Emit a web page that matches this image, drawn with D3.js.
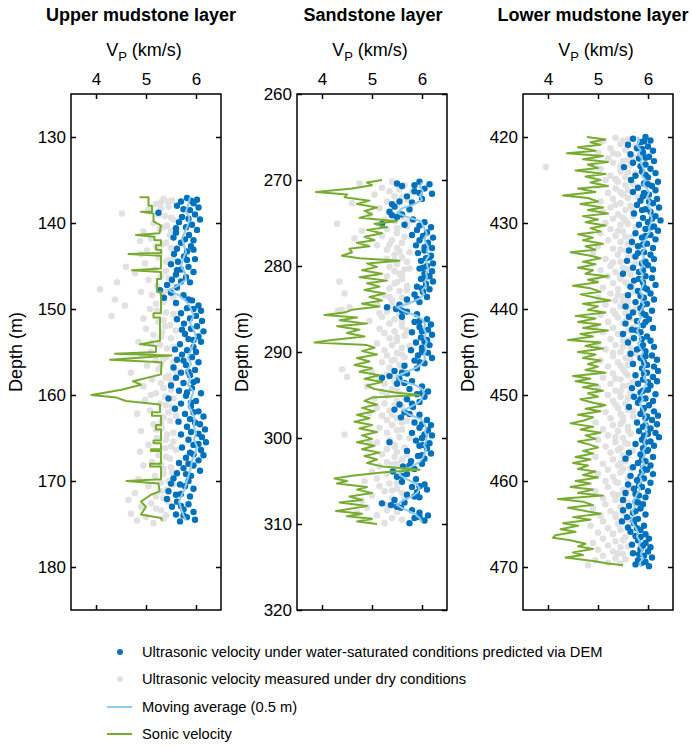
<!DOCTYPE html>
<html>
<head>
<meta charset="utf-8">
<script src="https://cdn.jsdelivr.net/npm/d3@7"></script>
<style>
body { margin: 0; background: #fff; font-family: "Liberation Sans", Arial, Helvetica, sans-serif; }
</style>
</head>
<body>
<div id="chart"></div>
<script>
// ---- data: [depth (m), Vp (km/s)] ----
const vpTicks = [4, 5, 6]
const layerTitles = ["Upper mudstone layer", "Sandstone layer", "Lower mudstone layer"]
const depthRanges = [[125, 185], [260, 320], [415, 475]]
const depthTicks = [
  [130, 140, 150, 160, 170, 180],
  [260, 270, 280, 290, 300, 310, 320],
  [420, 430, 440, 450, 460, 470]
]

// upper mudstone
const upperSonic = [[137.0,4.87],[137.0,5.05],[138.0,5.05],[138.0,5.12],[138.7,5.12],[138.7,4.9],[138.9,5.15],[139.8,5.15],[140.3,5.3],[141.2,5.27],[141.4,4.8],[141.6,5.17],[142.0,5.17],[142.0,5.3],[142.6,5.3],[142.6,5.2],[143.1,5.2],[143.1,5.3],[143.5,5.3],[143.6,4.65],[143.8,5.3],[145.3,5.3],[145.5,4.72],[145.7,5.3],[146.5,5.3],[146.5,5.22],[148.0,5.22],[148.0,5.3],[150.5,5.3],[150.5,5.15],[151.0,5.15],[151.0,5.28],[153.7,5.28],[154.1,4.88],[154.3,5.2],[155.0,5.2],[155.2,4.38],[155.4,5.51],[155.9,4.28],[156.2,5.31],[157.6,5.3],[158.4,4.74],[158.8,4.9],[159.4,4.51],[160.0,3.91],[160.3,4.41],[160.7,4.6],[161.1,5.28],[162.0,5.28],[162.0,5.12],[162.4,5.12],[162.4,5.3],[163.5,5.3],[163.5,5.2],[164.0,5.2],[164.0,5.3],[165.3,5.3],[165.3,5.15],[165.6,5.15],[165.6,5.3],[166.3,5.3],[166.3,5.1],[166.5,5.1],[166.5,5.3],[168.0,5.3],[168.0,5.08],[168.3,5.08],[168.3,5.3],[169.8,5.3],[170.0,4.61],[170.3,5.25],[171.2,5.27],[171.6,5.1],[172.4,4.9],[173.0,5.0],[173.9,4.9],[174.3,5.3],[174.6,5.32]]
const upperAvg = [[137.0,5.88],[137.8,5.85],[138.6,5.8],[139.4,5.87],[140.2,5.84],[141.0,5.78],[141.8,5.72],[142.6,5.76],[143.4,5.8],[144.2,5.74],[145.0,5.7],[145.8,5.78],[146.6,5.8],[147.4,5.6],[147.8,5.45],[148.4,5.66],[149.2,5.82],[150.0,5.9],[150.8,5.95],[151.6,5.88],[152.4,5.95],[153.2,6.0],[154.0,5.95],[154.8,5.9],[155.6,5.84],[156.4,5.9],[157.2,5.82],[158.0,5.88],[158.8,5.84],[159.6,5.95],[160.4,5.9],[161.2,5.85],[162.0,5.92],[162.8,5.98],[163.6,5.95],[164.4,6.0],[165.2,5.96],[166.0,6.02],[166.8,5.98],[167.6,5.92],[168.4,5.9],[169.2,5.86],[170.0,5.82],[170.8,5.78],[171.6,5.72],[172.4,5.66],[173.2,5.7],[174.0,5.75],[174.6,5.8]]
const upperDem = [[137.1,5.82],[137.3,6.02],[137.5,5.7],[137.7,5.95],[138.0,5.62],[138.2,6.05],[138.5,5.88],[138.8,5.25],[139.0,5.98],[139.3,5.72],[139.6,6.08],[139.9,5.66],[140.2,5.92],[140.5,5.8],[140.8,6.02],[141.1,5.6],[141.4,5.86],[141.7,5.55],[142.0,5.95],[142.3,5.7],[142.7,5.9],[143.0,5.62],[143.3,5.82],[143.6,5.56],[143.9,5.76],[144.2,5.98],[144.5,5.64],[144.8,5.5],[145.1,5.85],[145.4,5.7],[145.7,5.95],[146.0,5.6],[146.3,5.8],[146.6,5.52],[146.9,5.88],[147.2,5.42],[147.5,5.62],[147.8,5.28],[148.1,5.5],[148.4,5.75],[148.7,5.36],[149.0,5.92],[149.3,5.6],[149.6,6.05],[149.9,5.82],[150.2,6.1],[150.5,5.7],[150.8,6.0],[151.1,5.88],[151.4,6.12],[151.7,5.76],[152.0,6.02],[152.3,5.9],[152.6,6.15],[152.9,5.78],[153.2,6.05],[153.5,5.85],[153.8,6.1],[154.1,5.68],[154.4,5.95],[154.7,5.58],[155.0,6.0],[155.3,5.72],[155.6,5.92],[155.9,5.62],[156.2,6.05],[156.5,5.8],[156.8,5.55],[157.1,5.98],[157.4,5.7],[157.7,5.88],[158.0,5.6],[158.3,6.02],[158.6,5.75],[158.9,5.5],[159.2,5.92],[159.5,5.66],[159.8,6.1],[160.1,5.8],[160.4,5.45],[160.7,6.0],[161.0,5.7],[161.3,5.9],[161.6,5.58],[161.9,6.05],[162.2,5.78],[162.5,6.15],[162.8,5.88],[163.1,5.65],[163.4,6.08],[163.7,5.82],[164.0,6.18],[164.3,5.9],[164.6,5.7],[164.9,6.12],[165.2,5.85],[165.5,6.2],[165.8,5.95],[166.1,5.72],[166.4,6.1],[166.7,5.88],[167.0,6.15],[167.3,5.8],[167.6,6.05],[167.9,5.66],[168.2,5.95],[168.5,5.75],[168.8,6.08],[169.1,5.62],[169.4,5.9],[169.7,5.55],[170.0,5.85],[170.3,5.5],[170.6,5.78],[170.9,5.95],[171.2,5.45],[171.5,5.7],[171.8,5.88],[172.1,5.42],[172.4,5.62],[172.7,5.85],[173.0,5.52],[173.3,5.75],[173.6,5.95],[173.9,5.6],[174.2,5.82],[174.5,5.98],[174.7,5.68],
  [137.4,5.9],[138.4,5.75],[139.5,5.85],[140.6,5.6],[141.9,5.78],[143.1,5.95],[144.3,5.82],[145.5,5.62],[146.8,5.7],[148.9,5.85],[150.0,5.95],[151.2,5.62],[152.4,5.72],[153.6,5.95],[154.8,5.82],[156.0,5.75],[157.3,5.85],[158.5,5.95],[159.7,5.82],[160.9,5.9],[162.0,5.95],[163.2,5.98],[164.5,6.05],[165.7,6.05],[166.9,5.95],[168.0,5.85],[169.2,5.8],[170.4,5.68],[171.6,5.6],[172.9,5.7],[174.0,5.75]]
const upperDry = [[137.2,5.35],[137.4,5.52],[137.6,5.3],[137.8,5.2],[138.1,5.45],[138.5,5.05],[138.9,4.52],[139.0,5.25],[139.2,5.38],[139.6,5.55],[140.0,5.15],[140.3,5.42],[140.7,5.28],[140.9,5.5],[141.0,4.95],[141.4,5.48],[141.8,5.1],[142.1,4.88],[142.5,5.32],[142.7,5.2],[142.9,5.5],[143.2,5.02],[143.6,4.9],[144.0,5.25],[144.3,5.45],[144.5,5.4],[144.7,4.98],[145.1,4.6],[145.4,5.18],[145.8,4.78],[146.2,5.3],[146.4,5.45],[146.6,5.05],[146.9,4.42],[147.3,5.22],[147.7,4.08],[148.0,4.9],[148.2,5.32],[148.4,5.12],[148.9,4.38],[149.2,5.35],[149.6,4.58],[150.0,5.08],[150.2,5.22],[150.4,5.4],[150.8,4.31],[151.1,4.95],[151.5,5.25],[151.9,5.48],[152.0,5.38],[152.3,5.0],[152.7,5.32],[153.0,5.15],[153.4,5.5],[153.8,4.85],[154.0,5.1],[154.2,5.28],[154.6,5.42],[155.0,5.1],[155.4,4.92],[155.8,5.35],[156.0,5.2],[156.2,5.55],[156.6,5.02],[157.0,5.25],[157.4,4.7],[157.8,5.45],[158.0,5.4],[158.2,5.12],[158.6,5.3],[159.0,4.95],[159.4,5.5],[159.8,5.2],[160.0,5.1],[160.2,5.38],[160.6,4.98],[161.0,5.28],[161.4,5.52],[161.8,5.08],[162.0,5.45],[162.2,4.82],[162.6,5.35],[163.0,5.48],[163.4,5.15],[163.8,5.32],[164.0,5.2],[164.2,4.9],[164.6,5.42],[165.0,5.22],[165.4,5.55],[165.8,5.05],[166.0,5.5],[166.2,5.38],[166.6,4.88],[167.0,5.25],[167.4,5.48],[167.8,5.12],[168.0,5.3],[168.2,4.95],[168.6,5.35],[169.0,5.52],[169.4,5.18],[169.8,4.85],[170.0,5.45],[170.2,5.3],[170.6,5.05],[171.0,5.42],[171.4,4.78],[171.8,5.2],[172.0,5.35],[172.2,4.65],[172.6,5.1],[173.0,4.9],[173.4,5.3],[173.8,4.7],[174.0,5.4],[174.2,5.0],[174.6,4.82],[174.9,5.15],
  [137.5,5.45],[138.3,5.3],[139.4,5.5],[140.5,5.35],[141.2,5.6],[142.3,5.4],[143.4,5.28],[144.1,5.55],[145.6,5.4],[146.0,5.6],[147.0,5.5],[147.9,5.4],[148.6,5.55],[149.4,5.2],[150.6,5.55],[151.3,5.35],[152.5,5.6],[153.2,5.3],[154.4,5.55],[155.6,5.4],[156.4,5.3],[157.2,5.6],[158.4,5.5],[159.2,5.35],[160.4,5.55],[161.2,5.4],[162.4,5.6],[163.2,5.3],[164.4,5.55],[165.2,5.4],[166.4,5.6],[167.2,5.4],[168.4,5.5],[169.2,5.35],[170.4,5.55],[171.2,5.3],[172.4,5.45],[173.2,5.2],[174.4,5.35]]

// sandstone
const sandSonic = [[270.0,5.2],[270.3,4.9],[270.6,5.0],[271.0,4.6],[271.4,3.88],[271.7,4.5],[272.0,4.45],[272.4,4.95],[272.8,4.7],[273.2,5.1],[273.6,4.85],[274.0,5.0],[274.4,4.75],[274.8,5.5],[275.1,5.05],[275.5,5.3],[275.8,4.9],[276.2,5.2],[276.6,4.85],[277.0,5.05],[277.3,4.7],[277.7,4.95],[278.0,4.55],[278.4,4.6],[278.8,4.4],[279.1,4.75],[279.4,5.55],[279.7,4.9],[280.1,5.1],[280.5,4.8],[280.9,5.2],[281.3,4.75],[281.7,5.3],[282.0,4.9],[282.4,5.15],[282.8,4.85],[283.2,5.25],[283.6,4.95],[284.0,5.2],[284.4,4.8],[284.7,5.15],[285.1,4.6],[285.4,4.45],[285.7,4.05],[286.0,4.7],[286.3,4.35],[286.7,4.9],[287.0,4.3],[287.4,4.75],[287.8,4.5],[288.2,4.85],[288.6,4.2],[288.9,3.85],[289.2,4.9],[289.5,5.05],[289.9,4.8],[290.3,5.1],[290.7,4.7],[291.1,4.95],[291.5,4.65],[291.9,5.0],[292.3,4.75],[292.7,5.15],[293.1,4.85],[293.5,5.2],[293.9,4.9],[294.3,5.05],[294.7,5.45],[295.0,5.95],[295.3,5.0],[295.7,4.85],[296.1,5.1],[296.5,4.8],[296.9,5.05],[297.3,4.7],[297.7,4.95],[298.1,4.65],[298.5,5.0],[298.9,4.75],[299.3,5.1],[299.7,4.8],[300.1,5.0],[300.5,4.7],[300.9,5.05],[301.3,4.8],[301.7,5.15],[302.1,4.85],[302.5,5.1],[302.9,4.9],[303.3,5.2],[303.7,5.95],[304.0,5.2],[304.4,4.6],[304.7,4.25],[305.0,4.5],[305.3,4.3],[305.7,4.9],[306.0,4.7],[306.4,5.0],[306.8,4.55],[307.2,4.8],[307.5,4.35],[307.9,4.9],[308.2,4.6],[308.5,4.28],[308.8,4.8],[309.1,4.5],[309.4,5.0],[309.7,4.7],[310.0,5.1]]
const sandAvg = [[270.3,6.0],[270.8,5.95],[271.3,6.02],[271.8,5.96],[272.3,6.0],[272.8,5.85],[273.3,5.6],[273.8,5.5],[274.3,5.7],[274.8,5.98],[275.3,6.02],[275.8,6.06],[276.3,6.1],[276.8,6.04],[277.3,6.08],[277.8,6.12],[278.3,6.1],[278.8,6.14],[279.3,6.08],[279.8,6.1],[280.3,6.12],[280.8,6.08],[281.3,6.1],[281.8,6.06],[282.3,6.08],[282.8,6.0],[283.3,6.04],[283.8,5.95],[284.3,5.75],[284.8,5.5],[285.3,5.65],[285.8,5.9],[286.3,6.02],[286.8,6.06],[287.3,6.04],[287.8,6.08],[288.3,6.05],[288.8,6.1],[289.3,6.06],[289.8,6.08],[290.3,6.04],[290.8,6.06],[291.3,6.0],[291.8,5.9],[292.3,5.7],[292.8,5.5],[293.3,5.55],[293.8,5.85],[294.3,6.0],[294.8,6.04],[295.3,6.0],[295.8,5.95],[296.3,5.8],[296.8,5.62],[297.3,5.75],[297.8,5.98],[298.3,6.04],[298.8,6.08],[299.3,6.06],[299.8,6.1],[300.3,6.08],[300.8,6.04],[301.3,6.08],[301.8,6.05],[302.3,6.02],[302.8,5.95],[303.3,5.8],[303.8,5.6],[304.3,5.55],[304.8,5.7],[305.3,5.88],[305.8,5.95],[306.3,5.92],[306.8,5.8],[307.3,5.6],[307.8,5.5],[308.3,5.65],[308.8,5.85],[309.3,5.95],[309.8,6.0]]
const sandDem = [[270.2,5.95],[270.4,5.5],[270.5,6.15],[270.7,5.6],[271.0,6.05],[271.3,5.85],[271.6,6.2],[271.9,5.7],[272.2,6.0],[272.5,5.55],[272.8,5.4],[273.1,5.45],[273.4,5.75],[273.7,5.35],[274.0,5.6],[274.3,5.5],[274.6,5.82],[274.9,6.05],[275.1,5.2],[275.2,5.65],[275.5,6.18],[275.8,5.9],[276.1,6.1],[276.4,5.8],[276.7,6.22],[277.0,5.95],[277.3,6.12],[277.6,5.88],[277.9,6.2],[278.2,6.05],[278.5,5.92],[278.8,6.18],[279.1,6.08],[279.4,5.98],[279.7,6.22],[280.0,6.1],[280.3,5.95],[280.6,6.2],[280.9,6.05],[281.2,6.15],[281.5,5.98],[281.8,6.22],[282.1,6.08],[282.4,5.9],[282.7,6.15],[283.0,6.02],[283.3,5.85],[283.6,6.1],[283.9,5.7],[284.2,5.95],[284.5,5.55],[284.8,5.3],[285.0,5.48],[285.3,5.7],[285.6,5.9],[285.9,5.6],[286.2,6.1],[286.5,5.85],[286.8,6.18],[287.1,5.95],[287.4,6.12],[287.7,5.8],[288.0,6.2],[288.3,5.98],[288.6,6.1],[288.9,5.88],[289.2,6.15],[289.5,6.0],[289.8,5.78],[290.1,6.12],[290.4,5.92],[290.7,6.2],[291.0,5.85],[291.3,6.05],[291.6,5.65],[291.9,5.9],[292.2,5.45],[292.5,5.7],[292.8,5.35],[293.0,5.2],[293.1,5.55],[293.4,5.8],[293.7,5.5],[294.0,6.0],[294.3,5.75],[294.6,6.12],[294.9,5.9],[295.2,6.05],[295.5,5.7],[295.8,5.95],[296.1,5.55],[296.4,5.82],[296.7,5.45],[297.0,5.65],[297.3,5.95],[297.6,5.58],[297.9,6.1],[298.2,5.85],[298.5,6.18],[298.8,5.95],[299.1,6.12],[299.4,5.8],[299.7,6.2],[300.0,6.0],[300.3,5.88],[300.5,5.35],[300.6,6.15],[300.9,5.95],[301.2,6.1],[301.5,5.7],[301.8,6.18],[302.1,5.92],[302.4,6.05],[302.7,5.78],[303.0,6.0],[303.3,5.62],[303.6,5.85],[303.9,5.42],[304.2,5.7],[304.5,5.5],[304.8,5.88],[305.1,5.6],[305.4,6.05],[305.7,5.8],[306.0,6.1],[306.3,5.9],[306.6,5.7],[306.9,5.95],[307.2,5.45],[307.5,5.65],[307.6,5.2],[307.8,5.38],[308.1,5.58],[308.4,5.8],[308.7,5.95],[309.0,6.12],[309.3,5.85],[309.6,6.05],[309.9,5.75],
  [270.6,5.85],[271.5,5.95],[272.6,5.8],[274.1,5.4],[275.3,5.95],[276.5,6.02],[277.8,6.05],[279.0,6.15],[280.2,6.02],[281.4,6.05],[282.6,6.0],[283.8,5.9],[285.2,5.6],[286.4,5.95],[287.6,6.0],[288.8,6.05],[290.0,6.0],[291.2,5.95],[292.4,5.6],[293.6,5.65],[294.8,6.0],[296.0,5.8],[297.2,5.75],[298.4,6.0],[299.6,6.05],[300.8,6.02],[302.0,6.0],[303.2,5.75],[304.4,5.6],[305.6,5.95],[306.8,5.85],[308.0,5.5],[309.2,5.95]]
const sandDry = [[270.2,5.4],[270.4,4.75],[270.6,5.65],[270.9,5.2],[271.1,5.55],[271.4,5.8],[271.7,5.05],[271.9,5.45],[272.2,5.7],[272.5,5.3],[272.7,4.6],[273.0,5.5],[273.3,5.15],[273.5,5.75],[273.8,5.35],[274.0,4.95],[274.3,5.6],[274.6,5.25],[274.8,5.45],[275.1,4.3],[275.4,5.7],[275.7,5.3],[275.9,4.8],[276.2,5.5],[276.5,5.2],[276.8,4.65],[277.0,5.4],[277.3,5.6],[277.6,5.1],[277.9,5.5],[278.1,5.3],[278.4,5.75],[278.7,5.45],[279.0,5.6],[279.2,5.3],[279.5,5.7],[279.8,5.5],[280.1,5.35],[280.4,5.65],[280.6,5.45],[280.9,5.55],[281.2,5.3],[281.5,5.6],[281.8,4.35],[282.0,5.45],[282.3,5.7],[282.6,5.35],[282.9,5.55],[283.2,4.45],[283.4,5.25],[283.7,5.6],[284.0,5.4],[284.3,5.7],[284.5,5.1],[284.8,4.55],[285.1,4.4],[285.2,4.32],[285.3,5.3],[285.6,5.55],[285.9,5.2],[286.2,5.45],[286.4,4.95],[286.7,5.35],[287.0,5.6],[287.3,5.15],[287.6,5.45],[287.8,5.25],[288.1,5.65],[288.4,5.35],[288.7,5.5],[289.0,5.1],[289.2,5.4],[289.5,5.6],[289.8,5.25],[290.1,5.5],[290.4,5.3],[290.6,5.65],[290.9,5.45],[291.2,5.2],[291.5,5.55],[291.8,5.35],[292.0,4.4],[292.3,5.0],[292.6,5.3],[292.9,4.5],[293.2,5.15],[293.4,5.45],[293.7,5.25],[294.0,4.9],[294.3,5.4],[294.6,5.2],[294.8,5.55],[295.1,5.3],[295.4,5.05],[295.7,5.5],[296.0,5.25],[296.2,5.45],[296.5,5.1],[296.8,5.35],[297.1,4.95],[297.4,5.2],[297.7,5.5],[297.9,5.3],[298.2,5.6],[298.5,5.4],[298.8,5.15],[299.1,5.5],[299.4,5.3],[299.6,4.45],[299.9,5.55],[300.2,5.35],[300.5,5.1],[300.6,4.96],[300.8,5.45],[301.1,5.65],[301.3,5.3],[301.6,5.5],[301.9,5.2],[302.2,5.45],[302.5,5.6],[302.8,5.3],[303.0,5.5],[303.3,5.15],[303.6,5.4],[303.9,5.0],[304.2,5.3],[304.5,5.55],[304.7,5.1],[305.0,4.85],[305.3,5.35],[305.6,5.15],[305.9,5.5],[306.2,5.25],[306.4,5.6],[306.7,5.0],[307.0,5.4],[307.3,4.8],[307.6,5.2],[307.9,5.45],[308.1,4.9],[308.4,5.3],[308.7,4.7],[309.0,5.1],[309.3,5.4],[309.6,4.95],[309.9,5.25],
  [270.5,5.5],[271.3,5.35],[272.0,5.6],[272.9,5.45],[273.9,5.55],[274.9,5.7],[275.6,5.5],[276.6,5.65],[277.5,5.35],[278.3,5.55],[279.3,5.45],[280.3,5.75],[281.0,5.6],[281.9,5.5],[282.8,5.7],[283.6,5.35],[284.6,5.4],[285.5,5.15],[286.5,5.6],[287.5,5.7],[288.3,5.5],[289.3,5.75],[290.3,5.6],[291.0,5.4],[291.9,5.6],[292.8,5.45],[293.6,5.6],[294.5,5.5],[295.3,5.65],[296.3,5.6],[297.3,5.4],[298.0,5.7],[299.0,5.6],[300.0,5.75],[301.0,5.45],[302.0,5.7],[303.1,5.4],[304.1,5.6],[305.2,5.5],[306.1,5.4],[306.9,5.65],[307.8,5.3],[308.6,5.5],[309.5,5.6]]

// lower mudstone
const lowerSonic = [[420.0,4.78],[420.3,5.15],[420.6,4.85],[420.9,5.05],[421.2,4.6],[421.6,4.95],[421.9,4.38],[422.2,5.1],[422.6,4.7],[422.9,5.2],[423.2,4.8],[423.6,5.0],[423.9,4.55],[424.3,5.15],[424.6,4.75],[425.0,5.05],[425.3,4.85],[425.7,5.2],[426.0,4.6],[426.4,4.95],[426.8,4.3],[427.1,4.8],[427.5,5.0],[427.8,4.65],[428.2,5.1],[428.5,4.8],[428.9,5.2],[429.2,4.7],[429.6,5.0],[429.9,4.75],[430.3,5.15],[430.6,4.85],[431.0,5.05],[431.3,4.6],[431.7,4.9],[432.0,4.7],[432.4,5.1],[432.7,4.75],[433.1,4.95],[433.4,4.45],[433.8,4.85],[434.1,5.05],[434.5,4.7],[434.8,4.95],[435.2,4.6],[435.5,4.9],[435.9,4.75],[436.2,5.2],[436.6,4.8],[436.9,5.0],[437.3,4.5],[437.6,4.85],[438.0,5.05],[438.3,4.65],[438.7,4.95],[439.0,5.25],[439.4,4.7],[439.7,5.0],[440.1,4.8],[440.4,5.15],[440.8,4.55],[441.1,4.95],[441.5,4.6],[441.8,5.05],[442.2,4.7],[442.5,5.2],[442.9,4.65],[443.2,4.9],[443.6,4.4],[443.9,5.05],[444.3,4.75],[444.6,5.1],[445.0,4.6],[445.3,4.95],[445.7,4.7],[446.0,5.05],[446.4,4.8],[446.7,5.0],[447.1,4.75],[447.4,5.15],[447.8,4.5],[448.1,4.85],[448.4,4.55],[448.8,5.0],[449.1,4.7],[449.5,5.1],[449.8,4.8],[450.2,5.0],[450.5,4.65],[450.9,4.9],[451.2,5.15],[451.6,4.75],[451.9,5.05],[452.3,4.6],[452.6,4.9],[453.0,4.7],[453.3,4.45],[453.7,4.9],[454.0,4.65],[454.4,5.05],[454.7,4.75],[455.1,4.95],[455.4,4.6],[455.8,4.85],[456.1,5.0],[456.5,4.7],[456.8,4.9],[457.2,4.55],[457.5,4.85],[457.9,4.5],[458.2,4.8],[458.6,4.6],[458.9,4.95],[459.3,4.7],[459.6,5.0],[460.0,4.55],[460.3,4.85],[460.7,4.45],[461.0,4.9],[461.4,4.6],[461.7,5.1],[462.1,4.2],[462.4,4.7],[462.8,4.9],[463.1,4.4],[463.5,4.75],[463.8,5.05],[464.2,4.5],[464.5,4.85],[464.9,4.3],[465.2,4.6],[465.6,4.25],[465.9,4.55],[466.3,4.15],[466.6,4.1],[466.9,4.45],[467.3,4.75],[467.6,4.6],[467.9,4.9],[468.3,4.5],[468.6,4.7],[468.9,4.35],[469.3,4.9],[469.6,5.2],[469.8,5.5]]
const lowerAvg = [[420.0,5.8],[420.5,5.82],[421.0,5.78],[421.5,5.85],[422.0,5.8],[422.5,5.88],[423.0,5.85],[423.5,5.9],[424.0,5.92],[424.5,5.88],[425.0,5.95],[425.5,5.9],[426.0,5.98],[426.5,6.02],[427.0,5.98],[427.5,6.04],[428.0,6.0],[428.5,6.06],[429.0,6.04],[429.5,6.08],[430.0,6.06],[430.5,6.02],[431.0,6.04],[431.5,5.98],[432.0,5.95],[432.5,5.9],[433.0,5.94],[433.5,5.88],[434.0,5.92],[434.5,5.86],[435.0,5.9],[435.5,5.84],[436.0,5.9],[436.5,5.86],[437.0,5.92],[437.5,5.88],[438.0,5.84],[438.5,5.9],[439.0,5.86],[439.5,5.92],[440.0,5.88],[440.5,5.82],[441.0,5.86],[441.5,5.8],[442.0,5.84],[442.5,5.78],[443.0,5.82],[443.5,5.86],[444.0,5.8],[444.5,5.84],[445.0,5.9],[445.5,5.86],[446.0,5.92],[446.5,5.95],[447.0,5.9],[447.5,5.96],[448.0,5.92],[448.5,5.98],[449.0,5.94],[449.5,5.9],[450.0,5.86],[450.5,5.9],[451.0,5.84],[451.5,5.88],[452.0,5.92],[452.5,5.96],[453.0,5.92],[453.5,5.98],[454.0,5.94],[454.5,5.98],[455.0,5.95],[455.5,5.92],[456.0,5.96],[456.5,5.9],[457.0,5.94],[457.5,5.88],[458.0,5.92],[458.5,5.86],[459.0,5.9],[459.5,5.84],[460.0,5.88],[460.5,5.8],[461.0,5.84],[461.5,5.78],[462.0,5.74],[462.5,5.7],[463.0,5.74],[463.5,5.68],[464.0,5.72],[464.5,5.66],[465.0,5.7],[465.5,5.76],[466.0,5.8],[466.5,5.78],[467.0,5.84],[467.5,5.82],[468.0,5.88],[468.5,5.86],[469.0,5.9],[469.5,5.84],[470.0,5.86]]
const lowerDem = [[420.0,5.95],[420.2,5.7],[420.4,6.05],[420.6,5.85],[420.9,5.6],[421.1,6.0],[421.3,5.78],[421.6,6.1],[421.8,5.9],[422.0,5.65],[422.3,6.02],[422.5,5.82],[422.8,6.12],[423.0,5.7],[423.2,5.95],[423.5,5.52],[423.7,6.05],[424.0,5.88],[424.2,6.15],[424.5,5.75],[424.7,6.0],[425.0,5.66],[425.2,6.2],[425.4,5.92],[425.7,6.08],[425.9,5.8],[426.2,6.15],[426.4,5.7],[426.7,6.02],[426.9,5.9],[427.2,6.18],[427.4,5.85],[427.7,6.1],[427.9,5.78],[428.2,6.22],[428.4,5.95],[428.7,6.05],[428.9,5.72],[429.2,6.15],[429.4,5.9],[429.7,6.25],[429.9,6.0],[430.2,5.82],[430.4,6.12],[430.7,5.95],[430.9,6.2],[431.2,5.75],[431.4,6.05],[431.7,5.88],[431.9,6.15],[432.2,5.68],[432.4,5.98],[432.7,5.8],[432.9,6.1],[433.2,5.62],[433.4,5.92],[433.7,6.05],[433.9,5.75],[434.2,6.12],[434.4,5.58],[434.7,5.88],[434.9,6.0],[435.2,5.7],[435.4,6.1],[435.7,5.82],[435.9,5.5],[436.2,5.95],[436.4,6.08],[436.7,5.72],[436.9,5.9],[437.2,6.15],[437.4,5.65],[437.7,5.98],[437.9,5.8],[438.2,6.05],[438.4,5.6],[438.7,5.92],[438.9,6.12],[439.2,5.75],[439.4,5.98],[439.7,5.55],[439.9,5.85],[440.2,6.08],[440.4,5.7],[440.7,5.95],[440.9,5.62],[441.2,6.02],[441.4,5.78],[441.7,5.55],[441.9,5.9],[442.2,6.1],[442.4,5.68],[442.7,5.85],[442.9,5.5],[443.2,5.98],[443.4,5.72],[443.7,6.05],[443.9,5.6],[444.2,5.9],[444.4,6.12],[444.7,5.78],[444.9,5.95],[445.2,5.65],[445.4,6.08],[445.7,5.85],[445.9,6.18],[446.2,5.92],[446.4,5.7],[446.7,6.12],[446.9,5.88],[447.2,6.2],[447.4,5.98],[447.7,5.75],[447.9,6.1],[448.2,5.9],[448.4,6.18],[448.7,5.8],[448.9,6.05],[449.2,5.68],[449.4,6.0],[449.7,5.85],[449.9,6.15],[450.2,5.72],[450.4,5.95],[450.7,6.1],[450.9,5.8],[451.2,6.02],[451.4,5.62],[451.7,5.9],[451.9,6.12],[452.2,5.85],[452.4,6.2],[452.7,5.95],[452.9,6.08],[453.2,5.78],[453.4,6.18],[453.7,5.9],[453.9,6.05],[454.2,5.82],[454.4,6.15],[454.7,5.92],[454.9,6.22],[455.2,5.88],[455.4,6.05],[455.7,5.75],[455.9,6.12],[456.2,5.9],[456.4,6.0],[456.7,5.62],[456.9,5.85],[457.2,6.1],[457.4,5.55],[457.7,5.95],[457.9,5.8],[458.2,6.05],[458.4,5.7],[458.7,5.98],[458.9,5.88],[459.2,6.1],[459.4,5.65],[459.7,5.92],[459.9,5.78],[460.2,6.05],[460.4,5.6],[460.7,5.88],[460.9,5.72],[461.2,6.0],[461.4,5.55],[461.7,5.82],[461.9,5.95],[462.2,5.5],[462.4,5.75],[462.7,5.9],[462.9,5.62],[463.2,5.85],[463.4,5.5],[463.7,5.7],[463.9,5.95],[464.2,5.58],[464.4,5.8],[464.7,5.48],[464.9,5.72],[465.2,5.92],[465.4,5.6],[465.7,5.85],[465.9,5.65],[466.2,5.95],[466.4,5.75],[466.7,6.02],[466.9,5.8],[467.2,5.95],[467.4,5.68],[467.7,6.05],[467.9,5.85],[468.2,6.0],[468.4,5.7],[468.7,5.92],[468.9,6.08],[469.2,5.8],[469.4,5.95],[469.7,5.75],[469.9,6.02],
  [420.5,5.92],[421.4,5.88],[422.4,5.95],[423.4,5.85],[424.4,5.95],[425.5,6.0],[426.5,5.92],[427.5,6.02],[428.5,5.88],[429.5,6.08],[430.5,6.05],[431.5,5.95],[432.5,5.9],[433.5,5.8],[434.5,5.95],[435.5,5.9],[436.5,5.82],[437.5,5.92],[438.5,5.85],[439.5,5.9],[440.5,5.88],[441.5,5.95],[442.5,5.78],[443.5,5.88],[444.5,5.85],[445.5,5.95],[446.5,5.98],[447.5,5.92],[448.5,6.0],[449.5,5.9],[450.5,5.85],[451.5,5.92],[452.5,5.98],[453.5,5.95],[454.5,6.0],[455.5,5.95],[456.5,5.98],[457.5,5.88],[458.5,5.9],[459.5,5.85],[460.5,5.82],[461.5,5.75],[462.5,5.8],[463.5,5.75],[464.5,5.7],[465.5,5.78],[466.5,5.85],[467.5,5.9],[468.5,5.82],[469.5,5.88]]
const lowerDry = [[420.1,5.35],[420.3,5.6],[420.5,5.1],[420.8,5.45],[421.0,5.75],[421.3,5.25],[421.5,5.55],[421.8,5.0],[422.0,5.4],[422.3,5.7],[422.5,5.2],[422.8,5.5],[423.0,5.3],[423.3,5.65],[423.5,3.96],[423.7,5.05],[424.0,5.45],[424.2,5.75],[424.5,5.25],[424.7,5.55],[425.0,5.15],[425.2,5.4],[425.5,5.7],[425.7,5.0],[426.0,5.35],[426.2,5.6],[426.5,5.2],[426.7,5.5],[427.0,5.8],[427.2,5.3],[427.5,5.05],[427.7,5.45],[428.0,5.65],[428.2,5.25],[428.5,5.55],[428.7,5.1],[429.0,5.4],[429.2,5.7],[429.5,5.3],[429.7,5.55],[430.0,5.15],[430.2,5.45],[430.5,5.75],[430.7,5.25],[431.0,5.5],[431.2,5.05],[431.5,5.35],[431.7,5.65],[432.0,5.2],[432.2,5.45],[432.5,5.7],[432.7,5.0],[433.0,5.3],[433.2,5.55],[433.5,4.9],[433.7,5.4],[434.0,5.6],[434.2,5.15],[434.5,5.45],[434.7,5.75],[435.0,5.25],[435.2,5.5],[435.5,5.05],[435.7,5.35],[436.0,5.65],[436.2,5.2],[436.5,5.45],[436.7,4.95],[437.0,5.3],[437.2,5.6],[437.5,5.1],[437.7,5.4],[438.0,5.7],[438.2,5.25],[438.5,5.5],[438.7,5.0],[439.0,5.35],[439.2,5.6],[439.5,5.15],[439.7,5.45],[440.0,5.75],[440.2,5.3],[440.5,5.55],[440.7,5.05],[441.0,5.4],[441.2,5.65],[441.5,5.2],[441.7,5.5],[442.0,4.95],[442.2,5.3],[442.5,5.6],[442.7,5.1],[443.0,5.45],[443.2,5.7],[443.5,5.25],[443.7,5.5],[444.0,5.0],[444.2,5.35],[444.5,5.65],[444.7,5.15],[445.0,5.45],[445.2,5.75],[445.5,5.3],[445.7,5.55],[446.0,5.05],[446.2,5.4],[446.5,5.6],[446.7,5.2],[447.0,5.5],[447.2,4.9],[447.5,5.3],[447.7,5.6],[448.0,5.1],[448.2,5.45],[448.5,5.7],[448.7,5.25],[449.0,5.5],[449.2,5.0],[449.5,5.35],[449.7,5.65],[450.0,5.2],[450.2,5.45],[450.5,5.75],[450.7,5.3],[451.0,5.55],[451.2,5.05],[451.5,5.4],[451.7,5.6],[452.0,5.15],[452.2,5.45],[452.5,5.7],[452.7,5.25],[453.0,5.5],[453.2,4.95],[453.5,5.3],[453.7,5.6],[454.0,5.1],[454.2,5.4],[454.5,5.65],[454.7,5.2],[455.0,5.5],[455.2,5.0],[455.5,5.35],[455.7,5.6],[456.0,5.15],[456.2,5.45],[456.5,5.7],[456.7,5.25],[457.0,5.5],[457.2,4.95],[457.5,5.3],[457.7,5.55],[458.0,5.1],[458.2,5.4],[458.5,5.65],[458.7,5.2],[459.0,5.45],[459.2,5.0],[459.5,5.3],[459.7,5.6],[460.0,5.15],[460.2,5.4],[460.5,5.65],[460.7,5.2],[461.0,5.5],[461.2,4.95],[461.5,5.3],[461.7,5.55],[462.0,5.1],[462.2,5.35],[462.5,5.6],[462.7,5.15],[463.0,5.45],[463.2,4.9],[463.5,5.25],[463.7,5.5],[464.0,5.05],[464.2,5.35],[464.5,5.6],[464.7,5.1],[465.0,5.4],[465.2,4.85],[465.5,5.2],[465.7,5.45],[466.0,5.0],[466.2,5.3],[466.5,5.55],[466.7,5.1],[467.0,5.35],[467.2,4.9],[467.5,5.2],[467.7,5.45],[468.0,5.0],[468.2,5.3],[468.5,5.5],[468.7,5.1],[469.0,5.35],[469.2,4.95],[469.5,5.2],[469.8,4.8],
  [420.4,5.5],[421.1,5.6],[421.9,5.3],[422.7,5.6],[423.4,5.45],[424.1,5.6],[424.9,5.35],[425.6,5.55],[426.4,5.45],[427.1,5.6],[427.9,5.35],[428.6,5.7],[429.4,5.5],[430.1,5.6],[430.9,5.4],[431.6,5.55],[432.4,5.6],[433.1,5.45],[433.9,5.7],[434.6,5.3],[435.4,5.6],[436.1,5.45],[436.9,5.55],[437.6,5.7],[438.4,5.4],[439.1,5.5],[439.9,5.6],[440.6,5.35],[441.4,5.55],[442.1,5.7],[442.9,5.4],[443.6,5.6],[444.4,5.5],[445.1,5.3],[445.9,5.65],[446.6,5.45],[447.4,5.55],[448.1,5.35],[448.9,5.6],[449.6,5.45],[450.4,5.6],[451.1,5.35],[451.9,5.7],[452.6,5.5],[453.4,5.45],[454.1,5.6],[454.9,5.35],[455.6,5.55],[456.4,5.4],[457.1,5.6],[457.9,5.45],[458.6,5.5],[459.4,5.65],[460.1,5.35],[460.9,5.6],[461.6,5.4],[462.4,5.5],[463.1,5.6],[463.9,5.35],[464.6,5.45],[465.4,5.6],[466.1,5.3],[466.9,5.5],[467.6,5.6],[468.4,5.4],[469.1,5.55],[469.6,5.45]]

const sonicSeries = [upperSonic, sandSonic, lowerSonic]
const avgSeries = [upperAvg, sandAvg, lowerAvg]
const demSeries = [upperDem, sandDem, lowerDem]
const drySeries = [upperDry, sandDry, lowerDry]

const legendLabels = [
  "Ultrasonic velocity under water-saturated conditions predicted via DEM",
  "Ultrasonic velocity measured under dry conditions",
  "Moving average (0.5 m)",
  "Sonic velocity"
]

// ---- layout ----
const colBlue = "#0072bd", colGray = "#e1e1e1", colAvg = "#8ec9ee", colGreen = "#77ac30"
const panelLeft = [71, 297, 523]
const titleX = [141, 373, 593]
const panelW = 150, plotTop = 94, plotBottom = 610

const svg = d3.select("#chart").append("svg").attr("width", 692).attr("height", 748)

panelLeft.forEach((left, i) => {
  const x = d3.scaleLinear().domain([3.5, 6.5]).range([left, left + panelW])
  const y = d3.scaleLinear().domain(depthRanges[i]).range([plotTop, plotBottom])
  const g = svg.append("g")

  // dry points
  g.append("g").selectAll("circle").data(drySeries[i]).enter().append("circle")
    .attr("cx", d => x(d[1])).attr("cy", d => y(d[0])).attr("r", 3.3).attr("fill", colGray)

  // DEM points
  g.append("g").selectAll("circle").data(demSeries[i]).enter().append("circle")
    .attr("cx", d => x(d[1])).attr("cy", d => y(d[0])).attr("r", 3.2).attr("fill", colBlue)

  const line = d3.line().x(d => x(d[1])).y(d => y(d[0]))

  // moving average
  g.append("path").attr("d", line(avgSeries[i])).attr("fill", "none")
    .attr("stroke", colAvg).attr("stroke-width", 2)

  // sonic
  g.append("path").attr("d", line(sonicSeries[i])).attr("fill", "none")
    .attr("stroke", colGreen).attr("stroke-width", 2).attr("stroke-linejoin", "round")

  // axes (ticks pointing in)
  const styleAxis = a => {
    a.select(".domain").remove()
    a.selectAll("line").attr("stroke", "#000").attr("stroke-width", 1.5)
    a.selectAll("text").attr("font-size", 17).attr("fill", "#000")
      .attr("font-family", "'Liberation Sans', Arial, Helvetica, sans-serif")
  }
  g.append("g").attr("transform", `translate(0,${plotTop})`)
    .call(d3.axisTop(x).tickValues(vpTicks).tickFormat(d3.format("d")).tickSize(-5).tickPadding(9)).call(styleAxis)
  g.append("g").attr("transform", `translate(0,${plotBottom})`)
    .call(d3.axisBottom(x).tickValues(vpTicks).tickSize(-5).tickFormat("")).call(styleAxis)
  g.append("g").attr("transform", `translate(${left},0)`)
    .call(d3.axisLeft(y).tickValues(depthTicks[i]).tickSize(-5).tickPadding(5)).call(styleAxis)
  g.append("g").attr("transform", `translate(${left + panelW},0)`)
    .call(d3.axisRight(y).tickValues(depthTicks[i]).tickSize(-5).tickFormat("")).call(styleAxis)

  g.append("rect").attr("x", left).attr("y", plotTop).attr("width", panelW).attr("height", plotBottom - plotTop)
    .attr("fill", "none").attr("stroke", "#000").attr("stroke-width", 1.5)

  // titles
  g.append("text").attr("x", titleX[i]).attr("y", 21).attr("text-anchor", "middle")
    .attr("font-size", 18).attr("font-weight", "bold").text(layerTitles[i])

  const vp = g.append("text").attr("x", left + panelW / 2 - 2).attr("y", 56).attr("text-anchor", "middle")
    .attr("font-size", 18)
  vp.append("tspan").text("V")
  vp.append("tspan").attr("font-size", 13).attr("dy", 5).text("P")
  vp.append("tspan").attr("dy", -5).text(" (km/s)")

  g.append("text").attr("transform", `translate(${left - 49},${(plotTop + plotBottom) / 2}) rotate(-90)`)
    .attr("text-anchor", "middle").attr("font-size", 18).text("Depth (m)")
})

// ---- legend ----
const legY = [652, 679, 707, 734]
const leg = svg.append("g")
leg.append("circle").attr("cx", 120).attr("cy", legY[0]).attr("r", 3).attr("fill", colBlue)
leg.append("circle").attr("cx", 120).attr("cy", legY[1]).attr("r", 3).attr("fill", colGray)
leg.append("line").attr("x1", 107).attr("x2", 132).attr("y1", legY[2]).attr("y2", legY[2])
  .attr("stroke", colAvg).attr("stroke-width", 2)
leg.append("line").attr("x1", 107).attr("x2", 132).attr("y1", legY[3]).attr("y2", legY[3])
  .attr("stroke", colGreen).attr("stroke-width", 2)
leg.selectAll("text.lab").data(legendLabels).enter().append("text")
  .attr("x", 142).attr("y", (d, k) => legY[k] + 5).attr("font-size", 14.7).text(d => d)
</script>
</body>
</html>
